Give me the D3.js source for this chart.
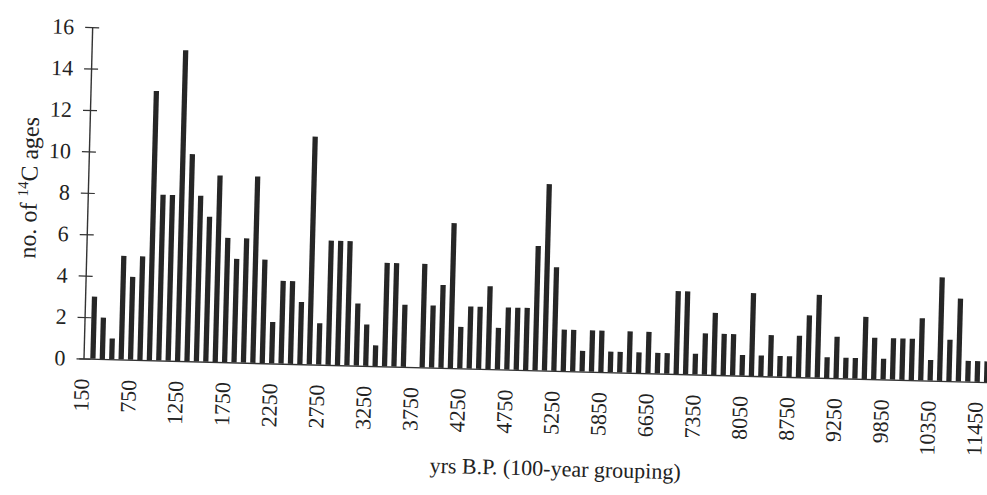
<!DOCTYPE html>
<html>
<head>
<meta charset="utf-8">
<script src="https://cdn.jsdelivr.net/npm/d3@7"></script>
<style>
body { margin: 0; background: #fff; }
svg { display: block; background: #fff; }
text { font-family: "Liberation Serif", "Times New Roman", serif; fill: #222; }
</style>
</head>
<body>
<svg width="987" height="495"></svg>
<script>
// number of 14C ages per 100-year bin (first bin, 150, is empty)
var counts = [0,
    3, 2, 1, 5, 4, 5, 13, 8, 8, 15, 10, 8, 7, 9, 6, 5, 6, 9, 5, 2, 4, 4, 3, 11, 2, 6,
    6, 6, 3, 2, 1, 5, 5, 3, 0, 5, 3, 4, 7, 2, 3, 3, 4, 2, 3, 3, 3, 6, 9, 5, 2, 2,
    1, 2, 2, 1, 1, 2, 1, 2, 1, 1, 4, 4, 1, 2, 3, 2, 2, 1, 4, 1, 2, 1, 1,
    2, 3, 4, 1, 2, 1, 1, 3, 2, 1, 2, 2, 2, 3, 1, 5, 2, 4, 1, 1, 1];

// a label is printed under every 5th bin
var tickLabels = ["150", "750", "1250", "1750", "2250", "2750", "3250", "3750", "4250", "4750",
    "5250", "5850", "6650", "7350", "8050", "8750", "9250", "9850", "10350", "11450"];
var tickEvery = 5;

var yTicks = [0, 2, 4, 6, 8, 10, 12, 14, 16];

var categories = counts.map(function (d, i) { return i; });

var svg = d3.select('svg');

// the original figure is a scan that sits slightly rotated
var chart = svg.append('g')
    .attr('transform', 'rotate(1.5, 83.5, 358.5)');

var step = 9.41;
var x = d3.scaleBand()
    .domain(categories)
    .range([83.5 - step / 2, 83.5 - step / 2 + step * categories.length])
    .paddingInner(0.44)
    .paddingOuter(0.22);

var y = d3.scaleLinear()
    .domain([0, 16])
    .range([358.5, 27]);

chart.selectAll('rect.bar')
    .data(counts)
    .enter().append('rect')
    .attr('class', 'bar')
    .attr('x', function (d, i) { return x(i); })
    .attr('y', function (d) { return y(d); })
    .attr('width', x.bandwidth())
    .attr('height', function (d) { return y(0) - y(d); })
    .attr('fill', '#262626');

// x axis
var xAxis = d3.axisBottom(x)
    .tickValues(tickLabels.map(function (d, i) { return i * tickEvery; }))
    .tickFormat(function (d) { return tickLabels[d / tickEvery]; })
    .tickSize(0)
    .tickSizeOuter(0);

var gx = chart.append('g')
    .attr('transform', 'translate(0,' + y(0) + ')')
    .call(xAxis)
    .attr('font-size', 22);

gx.select('.domain').attr('stroke', '#333').attr('stroke-width', 1.4);
gx.selectAll('text')
    .attr('transform', 'rotate(-90)')
    .attr('x', -20)
    .attr('y', 0)
    .attr('dy', '0.28em')
    .style('text-anchor', 'end');

// y axis, ticks cross the line
var yAxis = d3.axisLeft(y)
    .tickValues(yTicks)
    .tickSizeInner(7)
    .tickSizeOuter(0)
    .tickPadding(11);

var gy = chart.append('g')
    .attr('transform', 'translate(83.5,0)')
    .call(yAxis)
    .attr('font-size', 22);

gy.select('.domain').attr('stroke', '#333').attr('stroke-width', 1.4);
gy.selectAll('.tick line').attr('x1', 7).attr('stroke', '#333').attr('stroke-width', 1.2);

// titles
var yTitle = chart.append('text')
    .attr('transform', 'translate(32.6,189.3) rotate(-90)')
    .attr('text-anchor', 'middle')
    .attr('font-size', 24);
yTitle.append('tspan').text('no. of ');
yTitle.append('tspan').attr('font-size', 15).attr('dy', -9).text('14');
yTitle.append('tspan').attr('dy', 9).text('C ages');

chart.append('text')
    .attr('x', 557.9)
    .attr('y', 463.6)
    .attr('text-anchor', 'middle')
    .attr('font-size', 22)
    .text('yrs B.P. (100-year grouping)');
</script>
</body>
</html>
